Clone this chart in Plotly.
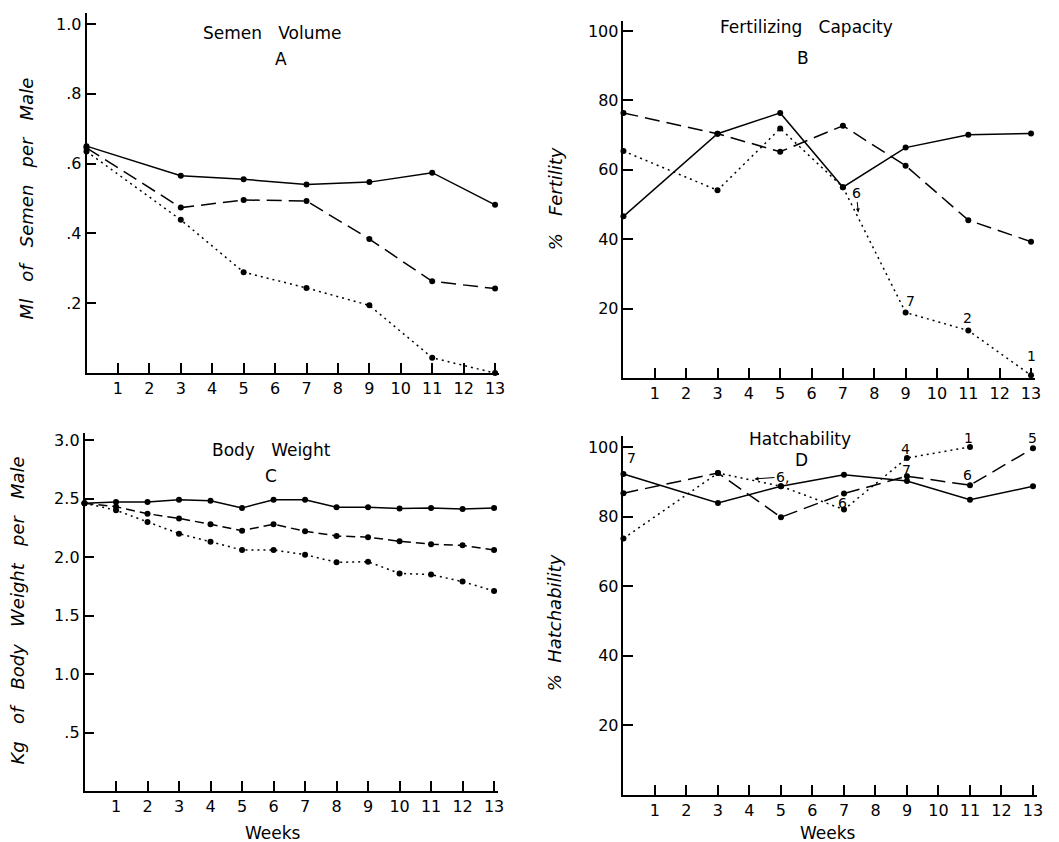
import plotly.graph_objects as go

W, H = 1059, 842

# ---------------- data ----------------
weeks_odd = [0, 3, 5, 7, 9, 11, 13]
weeks_all = list(range(14))
weeks_hatch_dot = [0, 3, 5, 7, 9, 11]

semen_solid = [0.65, 0.565, 0.555, 0.54, 0.547, 0.574, 0.482]
semen_dashed = [0.645, 0.474, 0.496, 0.493, 0.384, 0.263, 0.242]
semen_dotted = [0.635, 0.439, 0.289, 0.244, 0.194, 0.044, 0.0]

fert_solid = [46.6, 70.4, 76.4, 55.0, 66.4, 70.1, 70.5]
fert_dashed = [76.4, 70.4, 65.2, 72.7, 61.2, 45.5, 39.3]
fert_dotted = [65.4, 54.1, 71.9, 55.0, 18.9, 13.7, 0.8]

bw_solid = [2.46, 2.47, 2.47, 2.49, 2.48, 2.42, 2.49, 2.49, 2.425, 2.425, 2.415, 2.42, 2.41, 2.42]
bw_dashed = [2.46, 2.43, 2.37, 2.33, 2.28, 2.225, 2.28, 2.22, 2.18, 2.17, 2.135, 2.11, 2.10, 2.06]
bw_dotted = [2.46, 2.40, 2.30, 2.20, 2.13, 2.06, 2.06, 2.02, 1.955, 1.96, 1.86, 1.85, 1.79, 1.71]

hatch_solid = [92.2, 83.9, 88.7, 92.0, 90.2, 84.8, 88.7]
hatch_dashed = [86.7, 92.5, 79.8, 86.6, 91.6, 89.0, 99.6]
hatch_dotted = [73.7, 92.5, 88.7, 82.0, 96.8, 100.0]

x_tickvals = list(range(1, 14))
x_ticktext = [str(v) for v in x_tickvals]

semen_tickvals = [0.2, 0.4, 0.6, 0.8, 1.0]
semen_ticktext = [".2", ".4", ".6", ".8", "1.0"]
pct_tickvals = [20, 40, 60, 80, 100]
pct_ticktext = ["20", "40", "60", "80", "100"]
bw_tickvals = [0.5, 1.0, 1.5, 2.0, 2.5, 3.0]
bw_ticktext = [".5", "1.0", "1.5", "2.0", "2.5", "3.0"]

# annotations (sample sizes)
fert_notes = [(9.14, 22.1, "7"), (10.98, 17.2, "2"), (13.0, 6.3, "1")]
hatch_notes = [(0.25, 96.8, "7"), (6.94, 84.0, "6"), (8.96, 99.4, "4"), (8.99, 93.4, "7"),
               (10.95, 102.6, "1"), (10.92, 92.0, "6"), (12.97, 102.6, "5")]

FONT = "DejaVu Sans"
DASH_LONG = "15px,7px"
DASH_SHORT = "9px,5px"
DOT = "2px,4px"

fig = go.Figure()

def px_x(v):
    return v / W

def px_y(v):
    return 1 - v / H

def add_series(xs, ys, dash, axis_idx, width=1.5):
    xa = "x" if axis_idx == 1 else f"x{axis_idx}"
    ya = "y" if axis_idx == 1 else f"y{axis_idx}"
    fig.add_trace(go.Scatter(
        x=xs, y=ys, mode="lines+markers", xaxis=xa, yaxis=ya,
        line=dict(color="black", width=width, dash=dash),
        marker=dict(color="black", size=6),
        showlegend=False, cliponaxis=False,
    ))

# Panel A
add_series(weeks_odd, semen_solid, "solid", 1)
add_series(weeks_odd, semen_dashed, DASH_LONG, 1)
add_series(weeks_odd, semen_dotted, DOT, 1)
# Panel B
add_series(weeks_odd, fert_solid, "solid", 2)
add_series(weeks_odd, fert_dashed, DASH_LONG, 2)
add_series(weeks_odd, fert_dotted, DOT, 2)
# Panel C
add_series(weeks_all, bw_solid, "solid", 3)
add_series(weeks_all, bw_dashed, DASH_SHORT, 3)
add_series(weeks_all, bw_dotted, DOT, 3)
# Panel D
add_series(weeks_odd, hatch_solid, "solid", 4)
add_series(weeks_odd, hatch_dashed, DASH_LONG, 4)
add_series(weeks_hatch_dot, hatch_dotted, DOT, 4)

tick_font = dict(family=FONT, size=16, color="black")

def xaxis_cfg(x0, x1):
    return dict(
        domain=[px_x(x0), px_x(x1)], range=[0, 13.13],
        tickmode="array", tickvals=x_tickvals, ticktext=x_ticktext,
        ticks="inside", ticklen=10, tickwidth=1.5, tickcolor="black",
        showline=True, linecolor="black", linewidth=2,
        showgrid=False, zeroline=False, tickfont=tick_font,
    )

def yaxis_cfg(y0px, y1px, rng, tv, tt):
    return dict(
        domain=[px_y(y0px), px_y(y1px)], range=rng,
        tickmode="array", tickvals=tv, ticktext=tt,
        ticks="inside", ticklen=10, tickwidth=1.5, tickcolor="black",
        showline=True, linecolor="black", linewidth=1.5,
        showgrid=False, zeroline=False, tickfont=tick_font,
    )

xa1 = xaxis_cfg(87, 502); xa1["anchor"] = "y"
xa2 = xaxis_cfg(627, 1041); xa2["anchor"] = "y2"
xa3 = xaxis_cfg(85, 501); xa3["anchor"] = "y3"
xa4 = xaxis_cfg(627, 1043); xa4["anchor"] = "y4"

ya1 = yaxis_cfg(372, 11.5, [0, 1.03], semen_tickvals, semen_ticktext); ya1["anchor"] = "x"
ya2 = yaxis_cfg(377, 18.6, [0, 103], pct_tickvals, pct_ticktext); ya2["anchor"] = "x2"
ya3 = yaxis_cfg(791, 432, [0, 3.06], bw_tickvals, bw_ticktext); ya3["anchor"] = "x3"
ya4 = yaxis_cfg(795, 435.5, [0, 103], pct_tickvals, pct_ticktext); ya4["anchor"] = "x4"

annotations = []

def paper_text(xp, yp, text, size=16, italic=False, angle=0):
    t = f"<i>{text}</i>" if italic else text
    annotations.append(dict(
        x=px_x(xp), y=px_y(yp), xref="paper", yref="paper", text=t,
        showarrow=False, textangle=angle, xanchor="center", yanchor="middle",
        font=dict(family=FONT, size=size, color="black"),
    ))

NB = "\u00a0"
def spaced(s, n=2):
    return s.replace(" ", NB * n)

# panel titles
paper_text(274, 31, spaced("Semen Volume", 3), size=17)
paper_text(283, 57, "A", size=17)
paper_text(811, 25, spaced("Fertilizing Capacity", 3), size=17)
paper_text(808, 56, "B", size=17)
paper_text(273, 449, spaced("Body Weight", 3), size=17)
paper_text(273, 475, "C", size=17)
paper_text(805, 438, "Hatchability", size=17)
paper_text(806, 459, "D", size=17)

# axis titles
paper_text(27, 197, spaced("Ml of Semen per Male", 3), size=18, italic=True, angle=-90)
paper_text(559, 197, spaced("% Fertility", 3), size=18, italic=True, angle=-90)
paper_text(18, 610, spaced("Kg of Body Weight per Male", 3), size=18, italic=True, angle=-90)
paper_text(558, 622, spaced("% Hatchability", 2), size=18, italic=True, angle=-90)
paper_text(275, 833, "Weeks", size=17)
paper_text(833, 833, "Weeks", size=17)

note_font = dict(family=FONT, size=14, color="black")
for (x, y, t) in fert_notes:
    annotations.append(dict(x=x, y=y, xref="x2", yref="y2", text=t, showarrow=False, font=note_font))
for (x, y, t) in hatch_notes:
    annotations.append(dict(x=x, y=y, xref="x4", yref="y4", text=t, showarrow=False, font=note_font))

# arrowed notes
annotations.append(dict(x=7.49, y=47.7, xref="x2", yref="y2", text="6", showarrow=True,
                        ax=-2, ay=-20, arrowhead=2, arrowsize=0.8, arrowwidth=1,
                        arrowcolor="black", font=note_font))
annotations.append(dict(x=4.16, y=90.8, xref="x4", yref="y4", text="6,", showarrow=True,
                        ax=28, ay=-2, arrowhead=2, arrowsize=0.8, arrowwidth=1,
                        arrowcolor="black", font=note_font))

fig.update_layout(
    width=W, height=H,
    margin=dict(l=0, r=0, t=0, b=0),
    paper_bgcolor="white", plot_bgcolor="white",
    xaxis=xa1, yaxis=ya1, xaxis2=xa2, yaxis2=ya2,
    xaxis3=xa3, yaxis3=ya3, xaxis4=xa4, yaxis4=ya4,
    annotations=annotations,
    font=dict(family=FONT, color="black"),
)

fig.write_html("out.html")
